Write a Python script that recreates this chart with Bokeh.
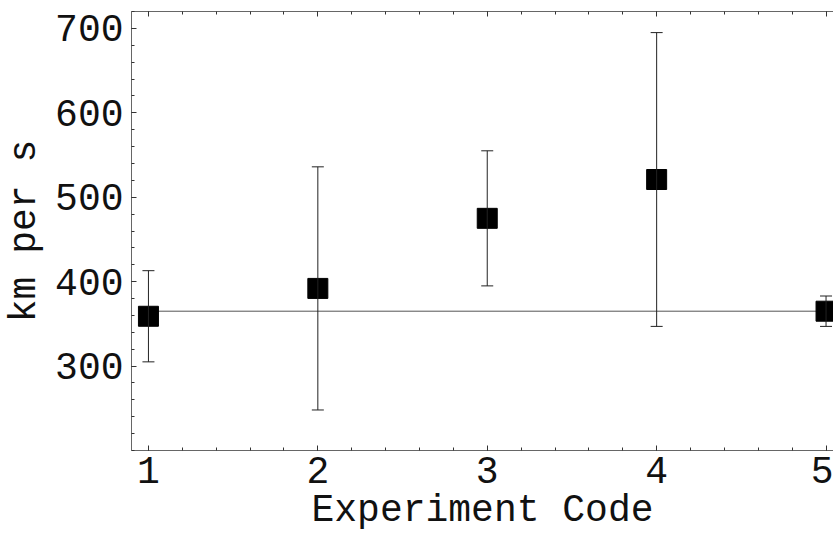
import numpy as np
from bokeh.plotting import figure
from bokeh.models import (ColumnDataSource, Whisker, TeeHead, FixedTicker, LinearAxis,
                          Range1d, CustomJSTickFormatter)
from bokeh.embed import file_html
from bokeh.resources import INLINE

# ---- data ----
experiment = [1, 2, 3, 4, 5]
speed = [359, 392, 475, 521, 365]
error = [54, 144, 80, 174, 18]
mean_speed = 365
x_ticks = [1, 2, 3, 4, 5]
y_ticks = [300, 400, 500, 600, 700]
x_label = "Experiment Code"
y_label = "km per s"

lower = [s - e for s, e in zip(speed, error)]
upper = [s + e for s, e in zip(speed, error)]
src = ColumnDataSource(dict(x=experiment, y=speed, lower=lower, upper=upper))

FONT = "Liberation Mono"
FS = "38px"
AXIS_COL = "#666666"
TICK_COL = "#333333"

x_minor = [round(v, 2) for v in np.arange(0.0, 6.01, 0.2)]
y_minor = list(range(200, 741, 20))
xticker = FixedTicker(ticks=x_ticks, minor_ticks=x_minor)
yticker = FixedTicker(ticks=y_ticks, minor_ticks=y_minor)

p = figure(frame_width=702, frame_height=439,
           x_range=Range1d(0.9, 5.044), y_range=Range1d(200, 720),
           output_backend="svg", toolbar_location=None,
           min_border_left=0, min_border_right=0, min_border_top=11, min_border_bottom=0,
           x_axis_label=x_label, y_axis_label=y_label)
p.outline_line_color = None
p.xgrid.visible = False
p.ygrid.visible = False
p.background_fill_color = "white"
p.border_fill_color = "white"

def style(ax, ticker):
    ax.ticker = ticker
    ax.axis_line_color = AXIS_COL
    ax.axis_line_width = 1
    ax.major_tick_line_color = TICK_COL
    ax.minor_tick_line_color = TICK_COL
    ax.major_tick_in = 5
    ax.major_tick_out = 0
    ax.minor_tick_in = 3
    ax.minor_tick_out = 0
    ax.major_label_text_font = FONT
    ax.major_label_text_color = "#111111"
    ax.axis_label_text_font = FONT
    ax.axis_label_text_font_style = "normal"
    ax.axis_label_text_color = "#111111"
    ax.axis_label_text_font_size = FS
    ax.major_label_text_font_size = FS

style(p.xaxis[0], xticker)
style(p.yaxis[0], yticker)
p.xaxis[0].major_label_standoff = 6
p.xaxis[0].axis_label_standoff = 3
p.yaxis[0].major_label_standoff = 8
p.yaxis[0].axis_label_standoff = 6

# top frame edge with inward ticks, no labels
top = LinearAxis()
style(top, xticker)
top.formatter = CustomJSTickFormatter(code="return ''")
top.major_label_standoff = 0
top.major_label_text_font_size = "1px"
p.add_layout(top, "above")

# mean line
p.line(x=[experiment[0], experiment[-1]], y=[mean_speed, mean_speed],
       line_color="#555555", line_width=1)

# error bars
w = Whisker(source=src, base="x", upper="upper", lower="lower",
            line_color="#222222", line_width=1, level="glyph",
            upper_head=TeeHead(size=12, line_color="#222222", line_width=1),
            lower_head=TeeHead(size=12, line_color="#222222", line_width=1))
p.add_layout(w)

p.scatter(x="x", y="y", source=src, marker="square", size=20,
          fill_color="black", line_color="black")

open("out.html", "w").write(file_html(p, INLINE))
